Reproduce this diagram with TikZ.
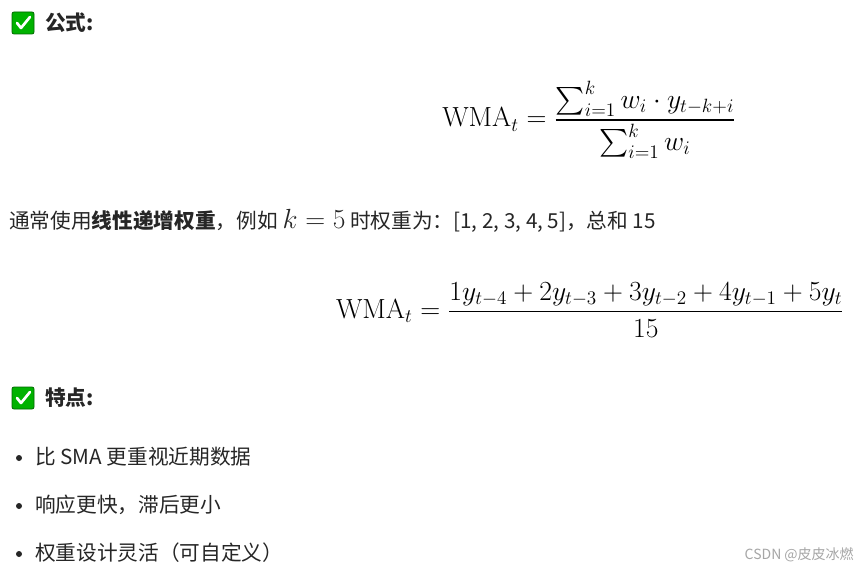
\documentclass[tikz,border=0pt]{standalone}
\usepackage{amsmath}
\usepackage[no-math]{fontspec}
\setmainfont{Noto Sans CJK SC}
\begin{document}
\begin{tikzpicture}[x=0.75pt,y=-0.75pt,
  txt/.style={anchor=west,inner sep=0pt,font=\fontsize{15.5}{18}\selectfont,text=black!85},
  hd/.style={txt,font=\fontsize{15.5}{18}\selectfont\bfseries},
  eq/.style={inner sep=0pt,font=\fontsize{20.5}{24}\selectfont},
  chk/.style={fill=green!70!black,draw=green!40!black,line width=0.6pt,rounded corners=1.5pt,minimum size=16.5pt,inner sep=0pt},
  dot/.style={circle,fill=black!85,inner sep=0pt,minimum size=4.5pt}]
\useasboundingbox (0,0) rectangle (857,570);
\fill[white] (0,0) rectangle (857,570);
% heading 1
\node[chk] (c1) at (23,23) {};
\draw[white,line width=2pt,line cap=round,line join=round] ([shift={(-6,0)}]c1.center) -- ([shift={(-2,5)}]c1.center) -- ([shift={(7,-6)}]c1.center);
\node[hd] (h1) at (45,23) {公式:};
\node[eq] (f1) at (589,120) {$\mathrm{WMA}_t = \dfrac{\sum_{i=1}^{k} w_i \cdot y_{t-k+i}}{\sum_{i=1}^{k} w_i}$};
\node[txt] (t1) at (9,221) {通常使用\textbf{线性递增权重}，例如 \fontsize{20}{22}\selectfont$k=5$\fontsize{15.5}{18}\selectfont{} 时权重为：[1, 2, 3, 4, 5]，总和 15};
\node[eq] (f2) at (590,310) {$\mathrm{WMA}_t = \dfrac{1y_{t-4}+2y_{t-3}+3y_{t-2}+4y_{t-1}+5y_t}{15}$};
% heading 2
\node[chk] (c2) at (23,398) {};
\draw[white,line width=2pt,line cap=round,line join=round] ([shift={(-6,0)}]c2.center) -- ([shift={(-2,5)}]c2.center) -- ([shift={(7,-6)}]c2.center);
\node[hd] (h2) at (45,398) {特点:};
\node[dot] (d1) at (19,458) {};
\node[txt] (b1) at (35,457) {比 SMA 更重视近期数据};
\node[dot] (d2) at (19,506) {};
\node[txt] (b2) at (35,505) {响应更快，滞后更小};
\node[dot] (d3) at (19,554) {};
\node[txt] (b3) at (35,553) {权重设计灵活（可自定义）};
\node[anchor=east,inner sep=0pt,text=black!35,font=\fontsize{10.5}{12}\selectfont] (wm) at (854,555) {CSDN @皮皮冰燃};
\end{tikzpicture}
\end{document}
